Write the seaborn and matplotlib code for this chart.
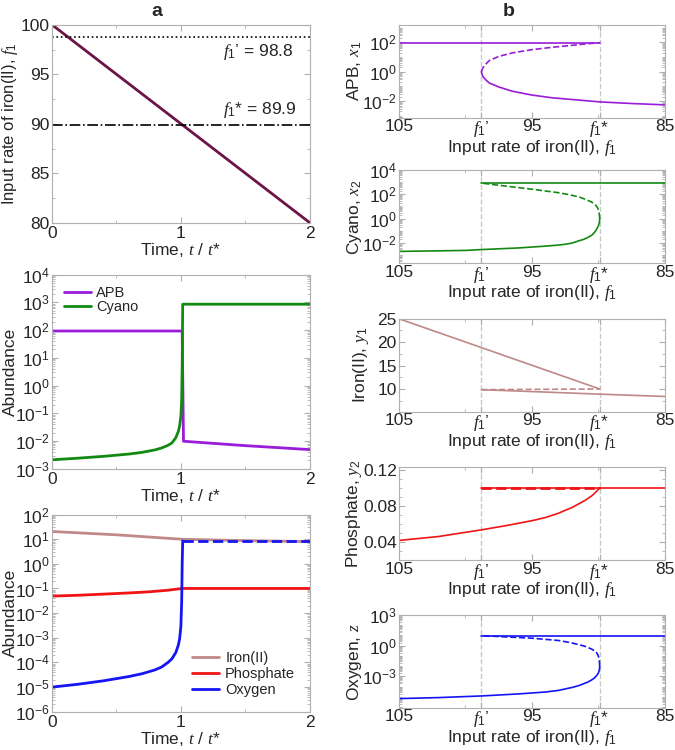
import numpy as np
import seaborn as sns
import matplotlib.pyplot as plt
from matplotlib.ticker import FixedLocator, LogLocator, NullFormatter, MultipleLocator

# ---- panel a: time series ----
t_f1 = [0, 2]
f1_t = [100, 80]
f1_prime = 98.8
f1_star = 89.9

t_apb = [0, 1.01, 1.02, 1.5, 2]
apb_t = [92, 92, 0.0098, 0.0068, 0.0049]
t_cyano = [0, 0.2, 0.4, 0.6, 0.7, 0.8, 0.85, 0.9, 0.93, 0.96, 0.98, 0.99,
           1.0, 1.006, 1.01, 1.014, 2]
cyano_t = [2.1e-3, 2.4e-3, 2.8e-3, 3.4e-3, 3.9e-3, 4.8e-3, 5.6e-3, 7.0e-3,
           8.5e-3, 0.013, 0.022, 0.035, 0.08, 0.3, 5, 850, 850]

t_iron = [0, 0.5, 1.01, 1.5, 2]
iron_t = [20.5, 15, 9.9, 8.7, 8.0]
t_phos = [0, 0.2, 0.4, 0.6, 0.75, 0.9, 1.01, 2]
phos_t = [0.049, 0.053, 0.059, 0.066, 0.073, 0.085, 0.1, 0.1]
t_oxy = [0, 0.2, 0.4, 0.6, 0.7, 0.8, 0.85, 0.9, 0.93, 0.96, 0.98, 0.99,
         1.0, 1.006, 1.01, 1.014]
oxy_t = [1e-5, 1.3e-5, 1.8e-5, 2.7e-5, 3.5e-5, 5e-5, 6.5e-5, 1.0e-4,
         1.4e-4, 2.5e-4, 5e-4, 9e-4, 3e-3, 0.03, 1, 8.5]
t_oxy_hi = [1.014, 2]
oxy_hi = [8.5, 8.5]

# ---- panel b: bifurcation diagrams ----
f_up = [105, 89.9]
apb_up = [95, 95]
f_apb_un = [98.8, 98.7, 98.5, 98.2, 97.5, 96.5, 95, 93.5, 92, 90.8, 89.9]
apb_un = [1.0, 1.8, 3.1, 5.8, 11, 19, 32, 46, 63, 81, 95]
f_apb_lo = [98.8, 98.7, 98.5, 98.2, 97.5, 96.5, 95, 93.5, 92, 90.8, 89.9, 87.5, 85]
apb_lo = [1.0, 0.49, 0.3, 0.17, 0.093, 0.048, 0.026, 0.017, 0.013, 0.0105,
          0.0089, 0.0069, 0.0056]

f_cy_lo = [105, 100, 98.8, 96, 94, 93, 92.5, 92, 91.5, 91.1, 90.8, 90.5,
           90.3, 90.15, 90.0, 89.93, 89.9]
cy_lo = [0.0019, 0.0023, 0.0027, 0.0037, 0.0052, 0.0064, 0.0074, 0.0092,
         0.014, 0.019, 0.027, 0.042, 0.07, 0.12, 0.25, 0.45, 1.0]
f_cy_un = [89.9, 89.92, 89.97, 90.05, 90.2, 90.5, 91, 91.4, 92.2, 93, 95, 97, 98.8]
cy_un = [1.0, 1.8, 4.0, 7.5, 13, 23, 40, 59, 95, 138, 270, 490, 870]
f_hi = [98.8, 85]
cy_hi = [950, 950]

f_fe_up = [105, 89.9]
fe_up = [25, 10.05]
f_fe_un = [98.8, 89.9]
fe_un = [9.9, 10.05]
f_fe_lo = [98.8, 89.9, 85]
fe_lo = [9.9, 8.95, 8.45]

f_p_lo = [105, 102, 98.8, 97, 95, 94, 93, 92.5, 92, 91.5, 91, 90.5, 90.2, 89.9]
p_lo = [0.0418, 0.0462, 0.0535, 0.058, 0.0636, 0.067, 0.0718, 0.075, 0.078,
        0.082, 0.086, 0.091, 0.095, 0.1]
p_hi = [0.1, 0.1]
f_p_un = [98.8, 89.9]
p_un = [0.1, 0.1]

f_o_lo = [105, 102, 98.8, 96, 94, 93, 92.5, 92, 91.5, 91.1, 90.8, 90.5,
          90.3, 90.15, 90.0, 89.93, 89.9]
o_lo = [6.6e-6, 8.3e-6, 1.2e-5, 1.9e-5, 2.9e-5, 4.2e-5, 5.8e-5, 8e-5, 1.2e-4,
        1.9e-4, 2.7e-4, 4.5e-4, 6.7e-4, 1.1e-3, 2.1e-3, 4e-3, 9.3e-3]
f_o_un = [89.9, 89.92, 89.97, 90.05, 90.2, 90.5, 91, 91.4, 92.2, 93, 95, 97, 98.8]
o_un = [9.3e-3, 0.025, 0.07, 0.14, 0.26, 0.46, 0.85, 1.2, 2.1, 3.2, 5.4, 7.2, 9.7]
o_hi = [9.7, 9.7]

C_F1 = '#6b1445'
C_APB = '#9a1bd8'
C_CY = '#128a12'
C_FE = '#c08888'
C_P = '#f01414'
C_O = '#1414f5'

sns.set_style('ticks')
plt.rcParams['font.family'] = ['Liberation Sans', 'DejaVu Sans']
plt.rcParams['mathtext.fontset'] = 'custom'
plt.rcParams['mathtext.rm'] = 'Liberation Sans'
plt.rcParams['mathtext.it'] = 'Liberation Serif:italic'
plt.rcParams['mathtext.bf'] = 'Liberation Sans:bold'
plt.rcParams['mathtext.default'] = 'it'
plt.rcParams['font.size'] = 12.5

FS_TICK = 12.5
FS_LAB = 12.5
FS_LEG = 10.5


def line(ax, x, y, c, ls='-', lw=1.2, label=None):
    sns.lineplot(x=x, y=y, ax=ax, color=c, linestyle=ls, lw=lw,
                 sort=False, estimator=None, label=label)


def style(ax):
    for s in ax.spines.values():
        s.set_color('#b0b0b0')
        s.set_linewidth(0.8)
    ax.tick_params(which='both', direction='in', top=True, right=True,
                   color='#b0b0b0', labelsize=FS_TICK)
    ax.tick_params(axis='y', pad=1.5)
    ax.tick_params(axis='x', pad=2)
    ax.tick_params(which='major', length=4)
    ax.tick_params(which='minor', length=2)


fig = plt.figure(figsize=(6.75, 7.5), dpi=100)

# a1
ax = fig.add_axes([0.077, 0.703, 0.382, 0.264])
line(ax, t_f1, f1_t, C_F1, lw=2)
ax.axhline(f1_prime, color='k', ls=':', lw=1.2)
ax.axhline(f1_star, color='k', ls='-.', lw=1.2)
ax.text(1.33, 97.2, "$f_1$’ = 98.8", fontsize=FS_LAB, va='center')
ax.text(1.33, 91.4, "$f_1$* = 89.9", fontsize=FS_LAB, va='center')
ax.set_xlim(0, 2)
ax.set_ylim(80, 100)
ax.set_xticks([0, 1, 2])
ax.set_yticks([80, 85, 90, 95, 100])
ax.xaxis.set_minor_locator(MultipleLocator(0.5))
ax.yaxis.set_minor_locator(MultipleLocator(2.5))
ax.set_xlabel('Time, $t$ / $t$*', labelpad=0, fontsize=FS_LAB)
ax.set_ylabel('Input rate of iron(II), $f_1$', fontsize=12)
ax.yaxis.set_label_coords(-0.124, 0.5)
style(ax)

leg_kw = dict(frameon=False, fontsize=FS_LEG, handlelength=1.85,
              handletextpad=0.4)

# a2
ax = fig.add_axes([0.077, 0.375, 0.382, 0.259])
line(ax, t_apb, apb_t, C_APB, lw=2, label='APB')
line(ax, t_cyano, cyano_t, C_CY, lw=2, label='Cyano')
ax.set_yscale('log')
ax.set_xlim(0, 2)
ax.set_ylim(1e-3, 1e4)
ax.set_xticks([0, 1, 2])
ax.xaxis.set_minor_locator(MultipleLocator(0.5))
ax.yaxis.set_major_locator(LogLocator(base=10, numticks=20))
ax.yaxis.set_minor_locator(LogLocator(base=10, subs=np.arange(2, 10), numticks=20))
ax.yaxis.set_minor_formatter(NullFormatter())
ax.set_xlabel('Time, $t$ / $t$*', labelpad=0, fontsize=FS_LAB)
ax.set_ylabel('Abundance', fontsize=FS_LAB)
ax.yaxis.set_label_coords(-0.132, 0.5)
ax.legend(loc='upper left', borderaxespad=0.4, labelspacing=0.0, **leg_kw)
style(ax)

# a3
ax = fig.add_axes([0.077, 0.051, 0.382, 0.263])
line(ax, t_iron, iron_t, C_FE, lw=2, label='Iron(II)')
line(ax, t_phos, phos_t, C_P, lw=2, label='Phosphate')
line(ax, t_oxy, oxy_t, C_O, lw=2, label='Oxygen')
line(ax, t_oxy_hi, oxy_hi, C_O, ls='--', lw=2)
ax.set_yscale('log')
ax.set_xlim(0, 2)
ax.set_ylim(1e-6, 1e2)
ax.set_xticks([0, 1, 2])
ax.xaxis.set_minor_locator(MultipleLocator(0.5))
ax.yaxis.set_major_locator(LogLocator(base=10, numticks=20))
ax.yaxis.set_minor_locator(LogLocator(base=10, subs=np.arange(2, 10), numticks=20))
ax.yaxis.set_minor_formatter(NullFormatter())
ax.set_xlabel('Time, $t$ / $t$*', labelpad=0, fontsize=FS_LAB)
ax.set_ylabel('Abundance', fontsize=FS_LAB)
ax.yaxis.set_label_coords(-0.132, 0.5)
ax.legend(loc='lower right', borderaxespad=0.6, labelspacing=0.15, **leg_kw)
style(ax)

# b panels
xt = [105, f1_prime, 95, f1_star, 85]
xtl = ['105', "$f_1$’", '95', '$f_1$*', '85']
rows = [0.843, 0.649, 0.451, 0.253, 0.056]
axes_b = [fig.add_axes([0.591, b, 0.394, 0.124]) for b in rows]

ax = axes_b[0]
line(ax, f_up, apb_up, C_APB)
line(ax, f_apb_un, apb_un, C_APB, ls='--')
line(ax, f_apb_lo, apb_lo, C_APB)
ax.set_yscale('log')
ax.set_ylim(10 ** -3.13, 10 ** 3.2)
ax.yaxis.set_major_locator(FixedLocator([1e-2, 1, 1e2]))
ax.set_ylabel('APB, $x_1$', fontsize=FS_LAB)

ax = axes_b[1]
line(ax, f_cy_lo, cy_lo, C_CY)
line(ax, f_cy_un, cy_un, C_CY, ls='--')
line(ax, f_hi, cy_hi, C_CY)
ax.set_yscale('log')
ax.set_ylim(10 ** -3.7, 1e4)
ax.yaxis.set_major_locator(FixedLocator([1e-2, 1, 1e2, 1e4]))
ax.set_ylabel('Cyano, $x_2$', fontsize=FS_LAB)

ax = axes_b[2]
line(ax, f_fe_up, fe_up, C_FE)
line(ax, f_fe_un, fe_un, C_FE, ls='--')
line(ax, f_fe_lo, fe_lo, C_FE)
ax.set_ylim(5.2, 25)
ax.set_yticks([10, 15, 20, 25])
ax.yaxis.set_minor_locator(MultipleLocator(2.5))
ax.set_ylabel('Iron(II), $y_1$', fontsize=FS_LAB)

ax = axes_b[3]
line(ax, f_p_lo, p_lo, C_P)
line(ax, f_hi, p_hi, C_P)
line(ax, f_p_un, p_un, C_P, ls='--', lw=2)
ax.set_ylim(0.02, 0.1225)
ax.set_yticks([0.04, 0.08, 0.12])
ax.set_yticklabels(['0.04', '0.08', '0.12'])
ax.yaxis.set_minor_locator(MultipleLocator(0.01))
ax.set_ylabel('Phosphate, $y_2$', fontsize=FS_LAB)

ax = axes_b[4]
line(ax, f_o_lo, o_lo, C_O)
line(ax, f_o_un, o_un, C_O, ls='--')
line(ax, f_hi, o_hi, C_O)
ax.set_yscale('log')
ax.set_ylim(10 ** -6.1, 1e3)
ax.yaxis.set_major_locator(FixedLocator([1e-3, 1, 1e3]))
ax.set_ylabel('Oxygen, $z$', fontsize=FS_LAB)

label_x = [-0.13, -0.133, -0.105, -0.133, -0.13]
for ax, lx in zip(axes_b, label_x):
    ax.axvline(f1_prime, color='#c8c8c8', ls='--', lw=1, zorder=0)
    ax.axvline(f1_star, color='#c8c8c8', ls='--', lw=1, zorder=0)
    ax.set_xlim(105, 85)
    ax.set_xticks(xt)
    ax.set_xticklabels(xtl)
    ax.xaxis.set_minor_locator(FixedLocator([100, 90]))
    if ax.get_yscale() == 'log':
        ax.yaxis.set_minor_locator(LogLocator(base=10, subs=np.arange(1, 10), numticks=30))
        ax.yaxis.set_minor_formatter(NullFormatter())
    ax.set_xlabel('Input rate of iron(II), $f_1$', labelpad=-1, fontsize=FS_LAB)
    ax.yaxis.set_label_coords(lx, 0.5)
    style(ax)
    ax.tick_params(axis='x', pad=1)

fig.text(0.233, 0.985, 'a', fontsize=14, fontweight='bold', ha='center', va='center')
fig.text(0.753, 0.985, 'b', fontsize=14, fontweight='bold', ha='center', va='center')

fig.savefig('out.png', dpi=100)
